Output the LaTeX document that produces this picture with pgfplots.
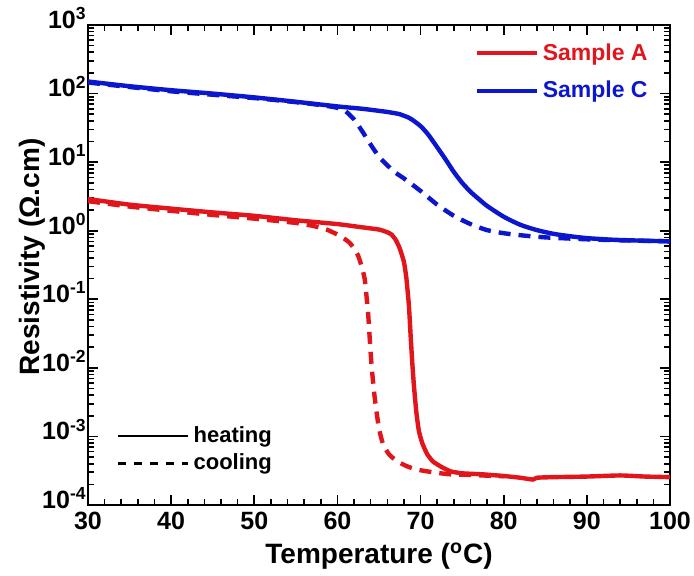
\documentclass[border=0pt]{standalone}
\usepackage{pgfplots}
\pgfplotsset{compat=1.18}
\usepackage{fontspec}
\setmainfont{Liberation Sans}

\definecolor{sred}{RGB}{225,22,28}
\definecolor{sblue}{RGB}{12,22,205}

\begin{document}
\begin{tikzpicture}
\begin{axis}[
    scale only axis,
    width=291pt,
    height=240pt,
    xmin=30, xmax=100,
    ymode=log,
    ymin=1e-4, ymax=1e3,
    xtick={30,40,...,100},
    xticklabels={30,40,50,60,70,80,90,100},
    minor x tick num=4,
    ytick={1e-4,1e-3,1e-2,1e-1,1e0,1e1,1e2,1e3},
    yticklabels={10\textsuperscript{-4},10\textsuperscript{-3},10\textsuperscript{-2},10\textsuperscript{-1},10\textsuperscript{0},10\textsuperscript{1},10\textsuperscript{2},10\textsuperscript{3}},
    tick align=inside,
    xtick pos=both, ytick pos=both,
    major tick length=5pt,
    minor tick length=3pt,
    every tick/.style={black, line width=0.8pt},
    axis line style={line width=1.1pt},
    tick label style={font=\bfseries\fontsize{12.5}{13}\selectfont},
    xticklabel style={yshift=-3.5pt, inner sep=0pt},
    yticklabel style={xshift=-0.5pt, yshift=3.5pt, inner sep=0pt},
    xlabel={Temperature (\textsuperscript{o}C)},
    ylabel={Resistivity (Ω.cm)},
    label style={font=\bfseries\fontsize{14}{15}\selectfont, inner sep=0pt},
    xlabel style={at={(axis description cs:0.5,0)}, anchor=center, yshift=-25.5pt},
    ylabel style={at={(axis description cs:0,0.5)}, anchor=center, yshift=28pt, xshift=4pt},
    legend style={at={(1,1)}, anchor=north east, xshift=-9pt, yshift=-7pt,
        draw=none, fill=none, inner sep=0pt, row sep=5pt,
        font=\bfseries\fontsize{11.5}{12}\selectfont},
    legend cell align=left,
    legend image code/.code={\draw[#1] (0pt,0pt) -- (30pt,0pt);},
]
% Sample A heating
\addplot[sred, line width=2.2pt, smooth, tension=0.3] coordinates {
(30,2.9) (35,2.4) (40,2.1) (45,1.85) (50,1.65) (55,1.42) (60,1.25) (63,1.12)
(65,1.04) (66,0.95) (66.5,0.88) (67,0.74) (67.5,0.55) (68,0.35) (68.3,0.2)
(68.6,0.08) (68.8,0.03) (69,0.012) (69.2,0.0055) (69.5,0.0022) (69.8,0.0012)
(70.2,0.0008) (70.8,0.00055) (71.5,0.00043) (72.5,0.00036) (73.6,0.00031)
(75,0.00029) (77.5,0.00028) (80,0.000265) (82,0.00025) (83.5,0.000235)
(84,0.00025) (86,0.000255) (90,0.00026) (94,0.00027) (97,0.00026) (100,0.000255)
};
\addlegendentry{\textcolor{sred}{Sample A}}
% Sample C heating
\addplot[sblue, line width=2.2pt, smooth, tension=0.4] coordinates {
(30,150) (35,128) (40,112) (45,100) (50,88) (55,76) (60,65) (63,60) (65,56)
(66,54) (67,51.5) (67.5,50) (68,47.5) (68.5,45) (69,41.5) (69.5,37.5) (70,33.5)
(70.5,29) (71,24.5) (72,16.5) (73,11) (74,7.2) (75,5.0) (76,3.7) (77,2.9)
(78,2.3) (80,1.6) (82,1.22) (84,1.02) (86,0.90) (88,0.83) (90,0.78) (93,0.74)
(96,0.72) (100,0.70)
};
\addlegendentry{\textcolor{sblue}{Sample C}}
% Sample A cooling
\addplot[sred, line width=2.2pt, dash pattern=on 6pt off 4pt, smooth, tension=0.3, forget plot] coordinates {
(30,2.7) (35,2.25) (40,1.95) (45,1.7) (50,1.5) (55,1.3) (57,1.18) (58.7,1.04)
(60,0.88) (61,0.74) (61.5,0.66) (62,0.55) (62.5,0.43) (63,0.28) (63.3,0.19)
(63.5,0.11) (63.7,0.06) (63.9,0.025) (64.1,0.011) (64.4,0.0045) (64.7,0.0023)
(65,0.0013) (65.5,0.00076) (66.2,0.00055) (67.1,0.00044) (68.3,0.00037)
(69.5,0.00033) (71.5,0.0003) (73.6,0.00028) (76,0.000275) (78,0.000268) (80,0.000262)
};
% Sample C cooling
\addplot[sblue, line width=2.2pt, dash pattern=on 6pt off 4pt, smooth, tension=0.4, forget plot] coordinates {
(30,145) (40,108) (50,86) (55,75) (58,68) (60,62) (61,55) (62,42) (63,28)
(64,18) (65,12) (66,9.0) (67,7.0) (68,5.8) (70,3.8) (72,2.4) (74,1.65)
(76,1.25) (78,1.02) (80,0.92) (82,0.86) (85,0.80) (90,0.75) (95,0.72) (100,0.70)
};
\coordinate (bl) at (rel axis cs:0,0);
\coordinate (tr) at (rel axis cs:1,1);
\end{axis}

% heating / cooling key
\begin{axis}[
    scale only axis,
    width=291pt,
    height=240pt,
    xmin=30, xmax=100, ymin=0, ymax=1,
    hide axis,
    legend style={at={(0,0)}, anchor=south west, xshift=14pt, yshift=14pt,
        draw=none, fill=none, inner sep=0pt, row sep=0pt,
        font=\bfseries\fontsize{11}{12}\selectfont},
    legend cell align=left,
    legend image code/.code={\draw[#1] (0pt,0pt) -- (35pt,0pt);},
]
\addlegendimage{black, line width=1pt}
\addlegendentry{heating}
\addlegendimage{black, line width=1.6pt, dash pattern=on 4pt off 4pt}
\addlegendentry{cooling}
\end{axis}

\path (bl) ++(-44pt,-35pt) coordinate (p1);
\path (tr) ++(12pt,12.5pt) coordinate (p2);
\pgfresetboundingbox
\path (p1) rectangle (p2);
\end{tikzpicture}
\end{document}
